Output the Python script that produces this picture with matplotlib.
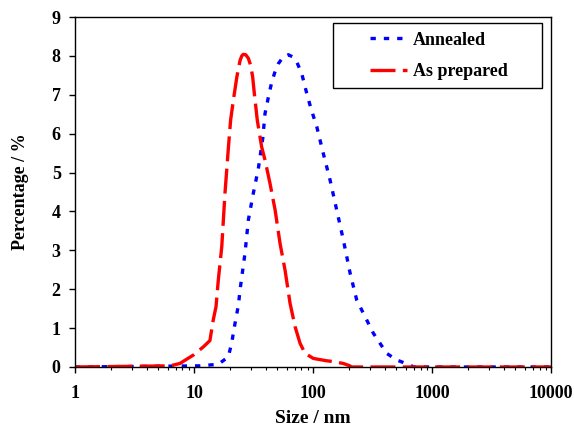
import matplotlib.pyplot as plt
import numpy as np
from matplotlib.ticker import LogLocator, NullFormatter
from matplotlib.patches import Rectangle

# Size / nm and Percentage values
annealed_x = [1, 11.2, 16, 19.4, 20.7, 22.1, 23.6, 24.4, 26.8, 28.6, 31.5, 34.7,
              37.8, 39.5, 42.2, 45, 48, 51.1, 56, 62.1, 67, 72.9, 80.3, 88.5,
              96, 107.5, 122, 139, 158, 180, 205, 233, 265, 321, 416, 505, 653,
              700, 10000]
annealed_y = [0, 0.03, 0.07, 0.26, 0.61, 1.12, 1.59, 2.0, 2.92, 3.78, 4.47, 5.1,
              5.88, 6.52, 6.95, 7.33, 7.6, 7.8, 7.97, 8.03, 7.98, 7.85, 7.55, 7.04,
              6.65, 6.18, 5.49, 4.81, 4.04, 3.26, 2.41, 1.72, 1.38, 0.87, 0.35,
              0.18, 0.05, 0, 0]

prepared_x = [1, 6.3, 7.6, 9.9, 12, 13.6, 14.5, 15.3, 16, 17.1, 18.2, 19.4, 20.3,
              21.4, 22.9, 24.4, 25.2, 25.9, 27.2, 28.6, 29.9, 31.1, 32.1, 34, 37,
              39.5, 43.5, 48, 52.8, 58.2, 64.1, 70.6, 77.8, 85.7, 100.7, 130, 148,
              180, 204, 210, 10000]
prepared_y = [0, 0.03, 0.09, 0.31, 0.52, 0.68, 1.21, 1.55, 2.24, 3.09, 4.47, 5.6,
              6.35, 6.86, 7.46, 7.89, 8.0, 8.04, 8.03, 7.94, 7.76, 7.46, 7.04,
              6.35, 5.66, 5.32, 4.72, 4.04, 3.18, 2.49, 1.64, 1.04, 0.61, 0.35,
              0.22, 0.16, 0.14, 0.09, 0.03, 0, 0]

x_ticks = [1, 10, 100, 1000, 10000]
x_labels = ['1', '10', '100', '1000', '10000']

plt.rcParams['font.family'] = 'Liberation Serif'
plt.rcParams['font.weight'] = 'bold'

fig = plt.figure(figsize=(5.74, 4.26), dpi=100)
ax = fig.add_axes([0.1307, 0.1385, 0.8293, 0.8215])

ax.plot(annealed_x, annealed_y, color='#0000ff', lw=2.4, dashes=(1.6, 2.4),
        label='Annealed')
ax.plot(prepared_x, prepared_y, color='#ff0000', lw=2.4, dashes=(7.5, 2.2),
        label='As prepared')

ax.set_xscale('log')
ax.set_xlim(1, 10000)
ax.set_ylim(0, 9)
ax.set_xticks(x_ticks)
ax.set_xticklabels(x_labels)
ax.xaxis.set_minor_locator(LogLocator(base=10, subs=np.arange(2, 10)))
ax.xaxis.set_minor_formatter(NullFormatter())
ax.set_yticks(range(10))

ax.tick_params(axis='both', which='major', direction='out', length=4.3, width=1,
               labelsize=13)
ax.tick_params(axis='y', which='major', pad=6)
ax.tick_params(axis='x', which='major', pad=9)
ax.tick_params(axis='x', which='minor', direction='out', length=2.5, width=0.8)
for lab in ax.get_xticklabels() + ax.get_yticklabels():
    lab.set_fontweight('bold')

ax.set_xlabel('Size / nm', fontsize=14, fontweight='bold', va='center')
ax.set_ylabel('Percentage / %', fontsize=13, fontweight='bold', va='center')
ax.xaxis.set_label_coords(0.5, -0.146)
ax.yaxis.set_label_coords(-0.115, 0.5)

for s in ax.spines.values():
    s.set_linewidth(1)
    s.set_color('black')

# legend box is much wider than its content, so draw the frame separately
leg = ax.legend(loc='center', bbox_to_anchor=(0.764, 0.889), frameon=False,
                handlelength=2.05, handletextpad=0.3, labelspacing=0.8,
                prop={'family': 'Liberation Serif', 'weight': 'bold', 'size': 13})
ax.add_patch(Rectangle((0.5427, 0.796), 0.4393, 0.186, transform=ax.transAxes,
                       fill=False, ec='black', lw=1, zorder=5))

fig.savefig('out.png', dpi=100)
